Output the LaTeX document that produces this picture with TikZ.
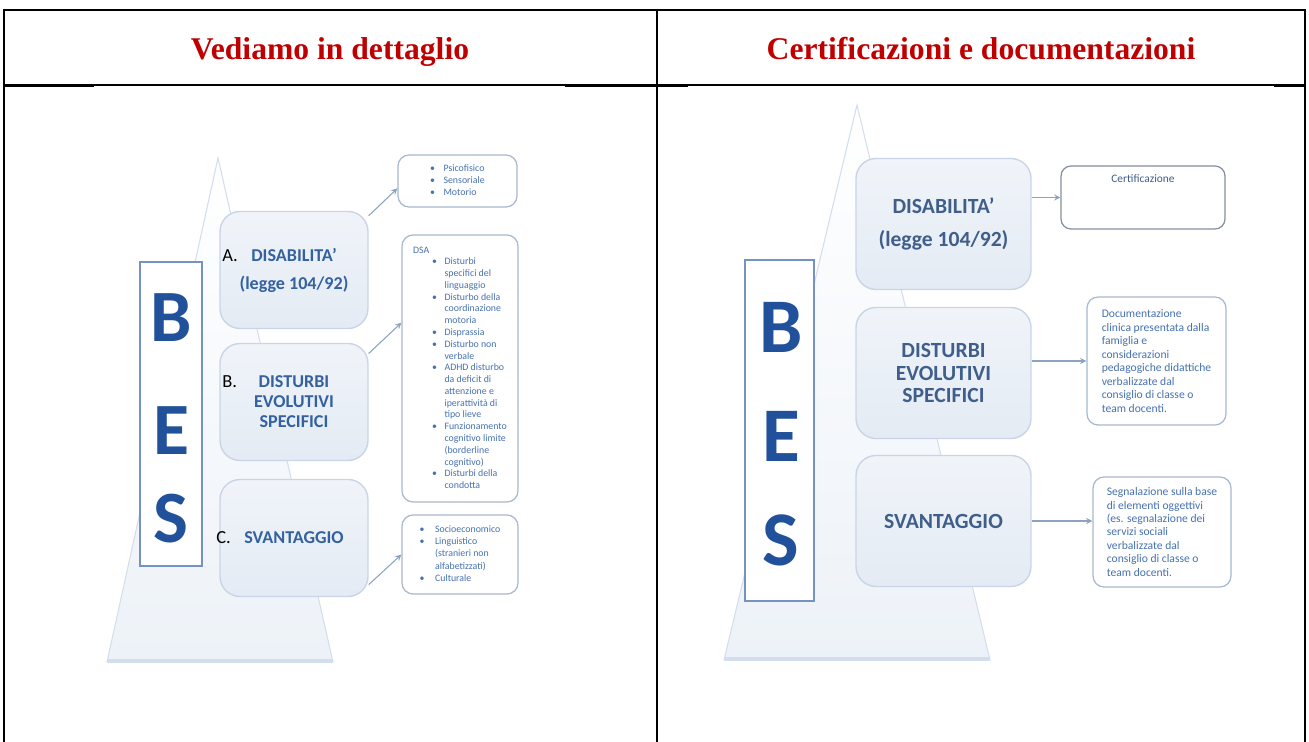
\documentclass[tikz,border=0pt]{standalone}
\usepackage{fontspec}
\setmainfont{Liberation Serif}
\newfontfamily\carl{Carlito}
\usepackage{tikz}
\usetikzlibrary{shapes,arrows,positioning}
\definecolor{titlered}{HTML}{C00000}
\definecolor{besblue}{HTML}{21519B}
\definecolor{labblue}{HTML}{3461A0}
\definecolor{labgrey}{HTML}{3F5E8A}
\definecolor{smallblue}{HTML}{4671B0}
\definecolor{boxfill}{HTML}{E4EBF4}
\definecolor{boxline}{HTML}{C9D5E6}
\definecolor{sideline}{HTML}{A7B8CF}
\definecolor{certline}{HTML}{858F9E}
\definecolor{linkcol}{HTML}{8CA2C0}
\definecolor{trapline}{HTML}{D3DEEC}
\definecolor{trapfill}{HTML}{EDF2F8}
\definecolor{besline}{HTML}{7593C2}
\tikzstyle{title} = [font=\bfseries\fontsize{18}{20}\selectfont, text=titlered, anchor=base]
\tikzstyle{mainbox} = [rectangle, rounded corners=0.4cm, draw=boxline, line width=0.8pt, top color=boxfill!55, bottom color=boxfill, align=center]
\tikzstyle{mainl} = [mainbox, minimum width=2.96cm, minimum height=2.34cm, text=labblue, font=\carl\bfseries\fontsize{10.3}{11.4}\selectfont]
\tikzstyle{mainr} = [mainbox, minimum width=3.5cm, minimum height=2.62cm, text=labgrey, font=\carl\bfseries\fontsize{12.3}{13}\selectfont]
\tikzstyle{sidebox} = [rectangle, rounded corners=0.22cm, draw=sideline, line width=0.7pt, fill=white, text=smallblue, inner sep=0pt]
\tikzstyle{besbox} = [rectangle, draw=besline, line width=1.6pt, fill=white]
\tikzstyle{besletter} = [text=besblue, inner sep=0pt]
\tikzstyle{num} = [font=\carl\fontsize{10.5}{12}\selectfont, text=black, anchor=west, inner sep=0pt]
\tikzstyle{link} = [->, >=stealth, draw=linkcol, line width=0.6pt]

\begin{document}
\begin{tikzpicture}[x=0.02cm, y=-0.02cm]
\useasboundingbox (0,0) rectangle (1309,742);
\draw[line width=1.2pt] (4,742) -- (4,10) -- (1305,10) -- (1305,742);
\draw[line width=1.2pt] (657,10) -- (657,742);
\draw[line width=0.6pt] (4,85) -- (1305,85);
\draw[line width=1.2pt] (4,86) -- (94,86) (565,86) -- (688,86) (1274,86) -- (1305,86);
\node[title] (t1) at (330,60) {Vediamo in dettaglio};
\node[title] (t2) at (981,60) {Certificazioni e documentazioni};

\shade[top color=white, bottom color=trapfill] (218,158) -- (107,662) -- (333,662) -- cycle;
\draw[trapline, line width=0.6pt] (218,158) -- (107,662) -- (333,662) -- cycle;
\draw[trapline, line width=2pt] (108,661) -- (332,661);
\node[besbox, minimum width=1.24cm, minimum height=6.08cm] (bes) at (171,414) {};
\node[besletter, font=\carl\bfseries\fontsize{42}{42}\selectfont] (lb) at (171,318) {B};
\node[besletter, font=\carl\bfseries\fontsize{42}{42}\selectfont] (le) at (171,431) {E};
\node[besletter, font=\carl\bfseries\fontsize{42}{42}\selectfont] (ls) at (171,519) {S};
\node[mainl] (dis) at (294,270) {DISABILITA’\\[4.5pt](legge 104/92)};
\node[mainl] (dist) at (294,402) {DISTURBI\\EVOLUTIVI\\SPECIFICI};
\node[mainl] (sva) at (294,538) {SVANTAGGIO};
\node[num] (na) at (222,256) {A.};
\node[num] (nb) at (222,382) {B.};
\node[num] (nc) at (216,538) {C.};
\node[sidebox, minimum width=2.38cm, minimum height=1.04cm, font=\carl\fontsize{5.6}{7.1}\selectfont] (psi) at (457.5,181) {%
\begin{tabular}{@{}l@{\hspace{4.8pt}}l@{}}
•&Psicofisico\\
•&Sensoriale\\
•&Motorio
\end{tabular}};
\node[sidebox, minimum width=2.32cm, minimum height=5.34cm, font=\carl\fontsize{5.6}{6.7}\selectfont] (dsa) at (460,368.5) {%
\begin{tabular}{@{\hspace{10.8pt}}l@{\hspace{4.3pt}}l@{}}
\multicolumn{2}{@{}l@{}}{DSA}\\
•&Disturbi\\
&specifici del\\
&linguaggio\\
•&Disturbo della\\
&coordinazione\\
&motoria\\
•&Disprassia\\
•&Disturbo non\\
&verbale\\
•&ADHD disturbo\\
&da deficit di\\
&attenzione e\\
&iperattività di\\
&tipo lieve\\
•&Funzionamento\\
&cognitivo limite\\
&(borderline\\
&cognitivo)\\
•&Disturbi della\\
&condotta
\end{tabular}};
\node[sidebox, minimum width=2.32cm, minimum height=1.58cm, font=\carl\fontsize{5.6}{6.9}\selectfont] (soc) at (460,554.5) {%
\begin{tabular}{@{}l@{\hspace{6pt}}l@{}}
•&Socioeconomico\\
•&Linguistico\\
&(stranieri non\\
&alfabetizzati)\\
•&Culturale
\end{tabular}};
\draw[link] (dis.36) -- (psi.187);
\draw[link] (dist.33) -- (dsa.142);
\draw[link] (sva.328) -- (soc.west);

\shade[top color=white, bottom color=trapfill] (857,105) -- (724,660) -- (990,660) -- cycle;
\draw[trapline, line width=0.6pt] (857,105) -- (724,660) -- (990,660) -- cycle;
\draw[trapline, line width=2pt] (725,659) -- (989,659);
\node[besbox, minimum width=1.38cm, minimum height=6.82cm] (bes2) at (779.5,430.5) {};
\node[besletter, font=\carl\bfseries\fontsize{44}{44}\selectfont] (rb) at (781,327) {B};
\node[besletter, font=\carl\bfseries\fontsize{44}{44}\selectfont] (re) at (781,436) {E};
\node[besletter, font=\carl\bfseries\fontsize{44}{44}\selectfont] (rs) at (781,540) {S};
\node[mainr] (dis2) at (943.5,224) {DISABILITA’\\[6pt](legge 104/92)};
\node[mainr] (dist2) at (943.5,373) {DISTURBI\\EVOLUTIVI\\SPECIFICI};
\node[mainr] (sva2) at (943.5,521) {SVANTAGGIO};
\node[sidebox, draw=certline, rounded corners=0.2cm, minimum width=3.28cm, minimum height=1.26cm, text depth=0.75cm, text=labgrey, font=\carl\fontsize{6.5}{7.7}\selectfont] (cert) at (1143,197.5) {Certificazione};
\node[sidebox, minimum width=2.78cm, minimum height=2.56cm, align=left, font=\carl\fontsize{6.6}{7.7}\selectfont] (doc) at (1156.5,361) {Documentazione\\clinica presentata dalla\\famiglia e\\considerazioni\\pedagogiche didattiche\\verbalizzate dal\\consiglio di classe o\\team docenti.};
\node[sidebox, minimum width=2.76cm, minimum height=2.2cm, align=left, font=\carl\fontsize{6.6}{7.6}\selectfont] (seg) at (1162,532) {Segnalazione sulla base\\di elementi oggettivi\\(es. segnalazione dei\\servizi sociali\\verbalizzate dal\\consiglio di classe o\\team docenti.};
\draw[link] (dis2.east |- cert.west) -- (cert.west);
\draw[link] (dist2.east |- doc.west) -- (doc.west);
\draw[link] (sva2.east) -- (sva2.east -| seg.west);
\end{tikzpicture}
\end{document}
